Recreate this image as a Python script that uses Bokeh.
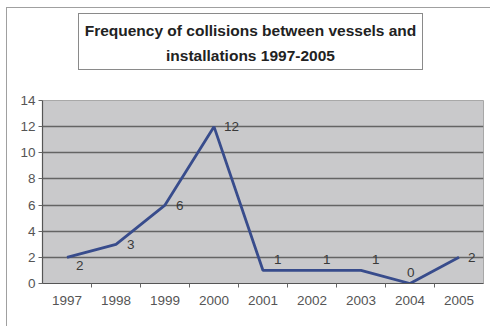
from bokeh.plotting import figure
from bokeh.layouts import column
from bokeh.models import Range1d, FixedTicker, ColumnDataSource, Div
from bokeh.core.properties import value
from bokeh.embed import file_html
from bokeh.resources import INLINE

# Collisions between vessels and installations, per year
years = ["1997", "1998", "1999", "2000", "2001", "2002", "2003", "2004", "2005"]
collisions = [2, 3, 6, 12, 1, 1, 1, 0, 2]
y_ticks = [0, 2, 4, 6, 8, 10, 12, 14]

# data-label nudges (pixels, y positive = down) so each number sits beside its point
label_dx = [9, 11, 11, 10, 11, 11, 11, -3, 9]
label_dy = [8, 0, 0, 0, -11, -11, -11, -11, 0]

FONT = "Liberation Sans"

x_pos = [i + 0.5 for i in range(len(years))]

# boxed two-line title
title = Div(text="Frequency of collisions between vessels and<br>installations 1997-2005",
            width=345, height=57, margin=(5, 0, 0, 71),
            styles={"border": "1px solid #8a8a8a", "background": "white",
                    "box-sizing": "border-box",
                    "text-align": "center", "font-family": FONT,
                    "font-weight": "bold", "font-size": "15.5px",
                    "line-height": "25px", "color": "#222222",
                    "padding-top": "4px"})

p = figure(width=477, height=256, output_backend="svg", toolbar_location=None,
           x_range=Range1d(0, len(years)), y_range=Range1d(0, 14),
           min_border_left=35, min_border_right=1,
           min_border_top=30, min_border_bottom=43)

p.background_fill_color = "#c9c9cb"
p.border_fill_color = "white"
p.outline_line_color = "#a8a8a8"

# x axis: year labels at category centres, tick marks between categories
xa = p.xaxis[0]
xa.ticker = FixedTicker(ticks=x_pos, minor_ticks=list(range(1, len(years))))
xa.major_label_overrides = {x: y for x, y in zip(x_pos, years)}
xa.major_tick_line_color = None
xa.major_tick_out = 0
xa.major_tick_in = 0
xa.minor_tick_out = 4
xa.minor_tick_in = 0
xa.minor_tick_line_color = "#666666"
xa.axis_line_color = "#555555"
xa.axis_line_width = 1.2
xa.major_label_standoff = 8
xa.major_label_text_font = FONT
xa.major_label_text_font_size = "13.5px"
xa.major_label_text_color = "#555555"

ya = p.yaxis[0]
ya.ticker = FixedTicker(ticks=y_ticks, minor_ticks=[])
ya.major_tick_out = 4
ya.major_tick_in = 0
ya.major_tick_line_color = "#666666"
ya.axis_line_color = "#555555"
ya.axis_line_width = 1.2
ya.major_label_standoff = 3
ya.major_label_text_font = FONT
ya.major_label_text_font_size = "13.5px"
ya.major_label_text_color = "#555555"

p.xgrid.grid_line_color = None
p.ygrid.grid_line_color = "#646464"
p.ygrid.grid_line_width = 1.3

src = ColumnDataSource(dict(x=x_pos, y=collisions,
                            label=[str(v) for v in collisions],
                            dx=label_dx, dy=label_dy))

p.line("x", "y", source=src, line_color="#384c8c", line_width=2.8)
p.text("x", "y", text="label", source=src, x_offset="dx", y_offset="dy",
       text_align="left", text_baseline="middle",
       text_font=value(FONT), text_font_size="13.5px", text_color="#3a3a3a")

# chart area with a thin frame on its top and left edges
layout = column(title, p, spacing=0, width=484, height=319,
                margin=(7, 0, 0, 6),
                styles={"border-left": "1px solid #a0a0a0",
                        "border-top": "1px solid #a0a0a0",
                        "background": "white"})

open("out.html", "w").write(file_html(layout, INLINE))
